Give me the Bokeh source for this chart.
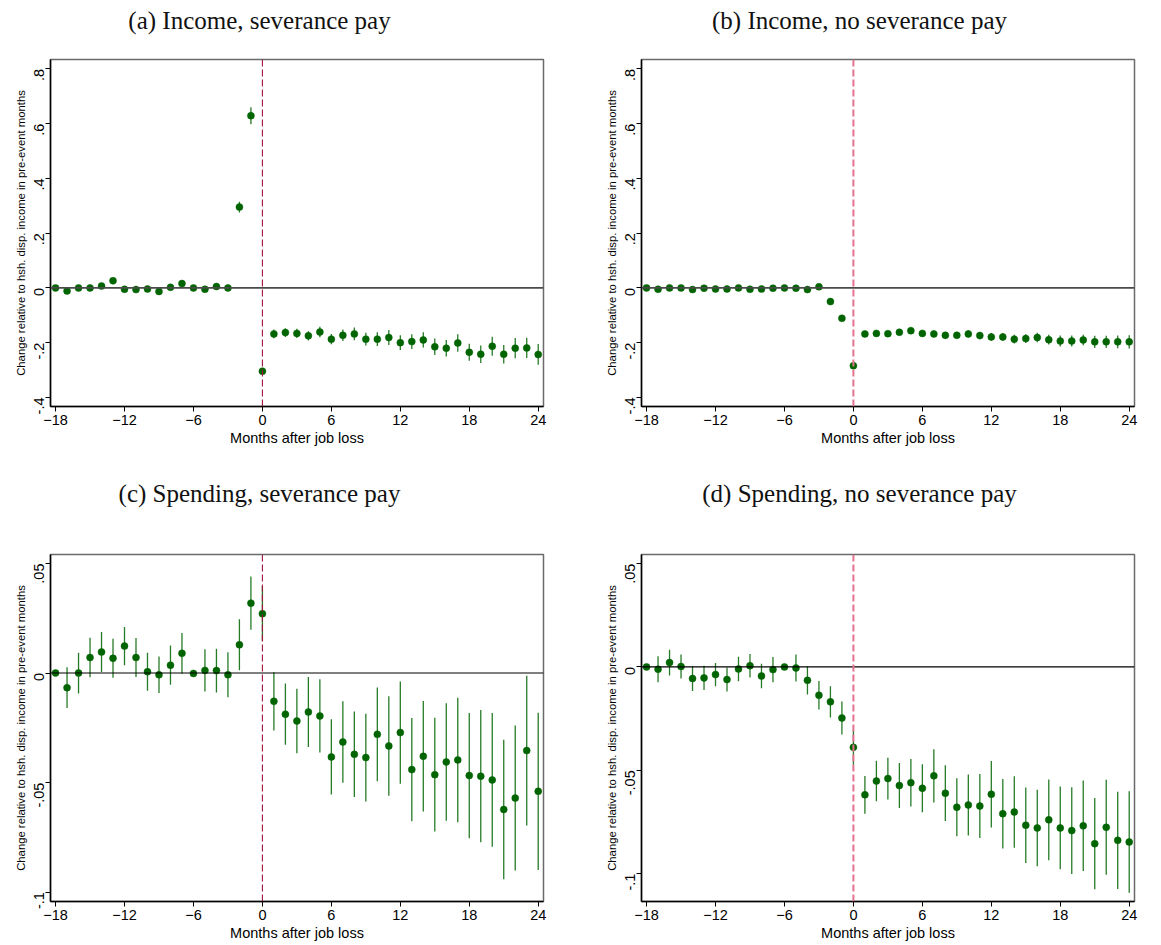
import math
from bokeh.plotting import figure
from bokeh.models import Range1d, FixedTicker, Span, ColumnDataSource
from bokeh.core.properties import value
from bokeh.layouts import column, row
from bokeh.embed import file_html
from bokeh.resources import INLINE

months = list(range(-18, 25))

# (a) Income, severance pay
inc_sev = [0, -0.011, 0, 0, 0.007, 0.026, -0.005, -0.006, -0.004, -0.013, 0.002, 0.016,
           0, -0.005, 0.005, 0, 0.295, 0.629, -0.304,
           -0.168, -0.163, -0.166, -0.175, -0.161, -0.187, -0.173, -0.168, -0.187, -0.187,
           -0.181, -0.200, -0.196, -0.190, -0.215, -0.220, -0.201, -0.235, -0.242, -0.213,
           -0.242, -0.220, -0.219, -0.243]
inc_sev_ci = [0, 0.006, 0.006, 0.006, 0.006, 0.007, 0.006, 0.006, 0.006, 0.006, 0.006, 0.007,
              0, 0.006, 0.007, 0.007, 0.020, 0.031, 0.010,
              0.016, 0.016, 0.017, 0.017, 0.019, 0.019, 0.021, 0.023, 0.023, 0.025,
              0.027, 0.027, 0.027, 0.028, 0.030, 0.030, 0.032, 0.031, 0.032, 0.035,
              0.034, 0.037, 0.037, 0.038]

# (b) Income, no severance pay
inc_nosev = [0, -0.005, 0, 0, -0.006, -0.001, -0.004, -0.004, 0, -0.005, -0.004, -0.001,
             0, -0.001, -0.006, 0.004, -0.050, -0.111, -0.284,
             -0.168, -0.166, -0.167, -0.162, -0.156, -0.166, -0.168, -0.173, -0.173, -0.168,
             -0.174, -0.179, -0.179, -0.187, -0.185, -0.181, -0.189, -0.194, -0.194, -0.190,
             -0.197, -0.197, -0.197, -0.197]
inc_nosev_ci = [0, 0.004, 0.004, 0.004, 0.004, 0.004, 0.004, 0.004, 0.004, 0.004, 0.004, 0.004,
                0, 0.004, 0.005, 0.005, 0.007, 0.008, 0.009,
                0.010, 0.010, 0.010, 0.011, 0.011, 0.011, 0.012, 0.012, 0.012, 0.013,
                0.013, 0.014, 0.014, 0.016, 0.016, 0.017, 0.018, 0.020, 0.020, 0.019,
                0.022, 0.022, 0.023, 0.024]

# (c) Spending, severance pay
sp_sev = [0, -0.0067, 0, 0.0071, 0.0096, 0.0067, 0.0123, 0.0071, 0.0006, -0.0008, 0.0036, 0.0090,
          -0.0002, 0.0012, 0.0011, -0.0008, 0.0129, 0.0319, 0.0271,
          -0.0129, -0.0188, -0.0219, -0.0178, -0.0196, -0.0383, -0.0315, -0.0371, -0.0386, -0.0280,
          -0.0333, -0.0272, -0.0441, -0.0380, -0.0464, -0.0406, -0.0397, -0.0468, -0.0471, -0.0488,
          -0.0623, -0.0571, -0.0354, -0.0540]
sp_sev_ci = [0, 0.0093, 0.0093, 0.0090, 0.0091, 0.0089, 0.0087, 0.0089, 0.0087, 0.0083, 0.0090, 0.0093,
             0, 0.0096, 0.0100, 0.0103, 0.0116, 0.0122, 0.0125,
             0.0133, 0.0140, 0.0147, 0.0160, 0.0167, 0.0172, 0.0186, 0.0195, 0.0200, 0.0214,
             0.0227, 0.0233, 0.0236, 0.0252, 0.0260, 0.0268, 0.0284, 0.0286, 0.0302, 0.0305,
             0.0318, 0.0331, 0.0342, 0.0359]

# (d) Spending, no severance pay
sp_nosev = [0, -0.0011, 0.0021, 0.0002, -0.0056, -0.0053, -0.0037, -0.0061, -0.0010, 0.0006, -0.0044, -0.0013,
            0, -0.0005, -0.0065, -0.0137, -0.0169, -0.0247, -0.0389,
            -0.0619, -0.0552, -0.0540, -0.0574, -0.0560, -0.0587, -0.0527, -0.0611, -0.0679, -0.0668,
            -0.0673, -0.0616, -0.0710, -0.0702, -0.0766, -0.0779, -0.0740, -0.0779, -0.0792, -0.0769,
            -0.0855, -0.0776, -0.0839, -0.0847]
sp_nosev_ci = [0, 0.0063, 0.0062, 0.0058, 0.0060, 0.0059, 0.0056, 0.0058, 0.0059, 0.0057, 0.0059, 0.0061,
               0, 0.0065, 0.0068, 0.0069, 0.0076, 0.0080, 0.0084,
               0.0091, 0.0098, 0.0101, 0.0109, 0.0115, 0.0116, 0.0129, 0.0135, 0.0140, 0.0148,
               0.0155, 0.0161, 0.0168, 0.0173, 0.0183, 0.0185, 0.0195, 0.0200, 0.0210, 0.0219,
               0.0221, 0.0230, 0.0235, 0.0246]

titles_top = ["(a) Income, severance pay", "(b) Income, no severance pay"]
titles_bottom = ["(c) Spending, severance pay", "(d) Spending, no severance pay"]

x_ticks = [-18, -12, -6, 0, 6, 12, 18, 24]
inc_ticks = [-0.4, -0.2, 0, 0.2, 0.4, 0.6, 0.8]
inc_tick_labels = ["-.4", "-.2", "0", ".2", ".4", ".6", ".8"]
sp_ticks = [-0.1, -0.05, 0, 0.05]
sp_tick_labels = ["-.1", "-.05", "0", ".05"]

x_label = "Months after job loss"
y_label = "Change relative to hsh. disp. income in pre-event months"

GREEN = "#006400"
SANS = "Liberation Sans"
SERIF = "Liberation Serif"
TOTAL_W = 1161


def title_strip(texts, h, yc):
    t = figure(width=TOTAL_W, height=h, output_backend="svg", toolbar_location=None,
               x_range=Range1d(0, TOTAL_W), y_range=Range1d(0, h),
               x_axis_location=None, y_axis_location=None, min_border=0)
    t.grid.visible = False
    t.outline_line_color = None
    t.text(x=[259, 859], y=[h - yc, h - yc], text=texts, text_font=value(SERIF),
           text_font_size="25px", text_align="center", text_baseline="middle",
           text_color="#111111")
    return t


def panel(coef, ci, yr, yticks, ylabels, vcolor, vwidth, zcolor, zwidth,
          bl, br, bt, bb):
    p = figure(frame_width=493, frame_height=347, output_backend="svg",
               toolbar_location=None, x_range=Range1d(-18.44, 24.46),
               y_range=Range1d(*yr), min_border_left=bl, min_border_right=br,
               min_border_top=bt, min_border_bottom=bb)
    p.grid.visible = False
    p.outline_line_color = "#6a6a6a"
    p.outline_line_width = 1.5
    p.background_fill_color = "white"
    p.border_fill_color = "white"

    lo = [c - h for c, h in zip(coef, ci)]
    hi = [c + h for c, h in zip(coef, ci)]
    src = ColumnDataSource(dict(x=months, y=coef, lo=lo, hi=hi))

    p.add_layout(Span(location=0, dimension="width", line_color=zcolor, line_width=zwidth))
    p.add_layout(Span(location=0, dimension="height", line_color=vcolor,
                      line_width=vwidth, line_dash="7 3"))
    p.segment(x0="x", y0="lo", x1="x", y1="hi", source=src, line_color=GREEN,
              line_width=1.3, line_alpha=0.85)
    p.scatter(x="x", y="y", source=src, size=7, fill_color=GREEN, line_color=GREEN,
              line_width=0.5)

    p.xaxis.ticker = FixedTicker(ticks=x_ticks)
    p.xaxis.axis_label = x_label
    p.yaxis.ticker = FixedTicker(ticks=yticks)
    p.yaxis.major_label_overrides = {t: l for t, l in zip(yticks, ylabels)}
    p.yaxis.axis_label = y_label
    p.yaxis.major_label_orientation = math.pi / 2
    for ax in (p.xaxis[0], p.yaxis[0]):
        ax.axis_line_color = "black"
        ax.axis_line_width = 1.5
        ax.major_tick_line_color = "black"
        ax.major_tick_line_width = 1
        ax.major_tick_out = 5
        ax.major_tick_in = 0
        ax.minor_tick_line_color = None
        ax.major_label_text_font = SANS
        ax.major_label_text_font_size = "14.5px"
        ax.major_label_text_color = "black"
        ax.axis_label_text_font = SANS
        ax.axis_label_text_font_style = "normal"
        ax.axis_label_text_color = "black"
    p.xaxis.major_label_standoff = 3
    p.xaxis.axis_label_standoff = 2
    p.xaxis.axis_label_text_font_size = "14.5px"
    p.yaxis.major_label_standoff = 6
    p.yaxis.axis_label_standoff = 0
    p.yaxis.axis_label_text_font_size = "11.3px"
    return p


DARKRED = "#a3123a"
PINK = "#e3738f"

pa = panel(inc_sev, inc_sev_ci, (-0.433, 0.834), inc_ticks, inc_tick_labels,
           DARKRED, 1.1, "#4a4a4a", 1.8, 50, 48, 19, 60)
pb = panel(inc_nosev, inc_nosev_ci, (-0.433, 0.834), inc_ticks, inc_tick_labels,
           PINK, 2, "#4a4a4a", 1.8, 50, 26, 19, 60)
pc = panel(sp_sev, sp_sev_ci, (-0.1043, 0.0541), sp_ticks, sp_tick_labels,
           DARKRED, 1.1, "black", 1.2, 50, 48, 34, 0)
pd = panel(sp_nosev, sp_nosev_ci, (-0.1135, 0.0544), sp_ticks, sp_tick_labels,
           PINK, 2, "black", 1.2, 50, 26, 34, 0)

layout = column(title_strip(titles_top, 40, 20), row(pa, pb),
                title_strip(titles_bottom, 54, 27), row(pc, pd))

open("out.html", "w").write(file_html(layout, INLINE))
